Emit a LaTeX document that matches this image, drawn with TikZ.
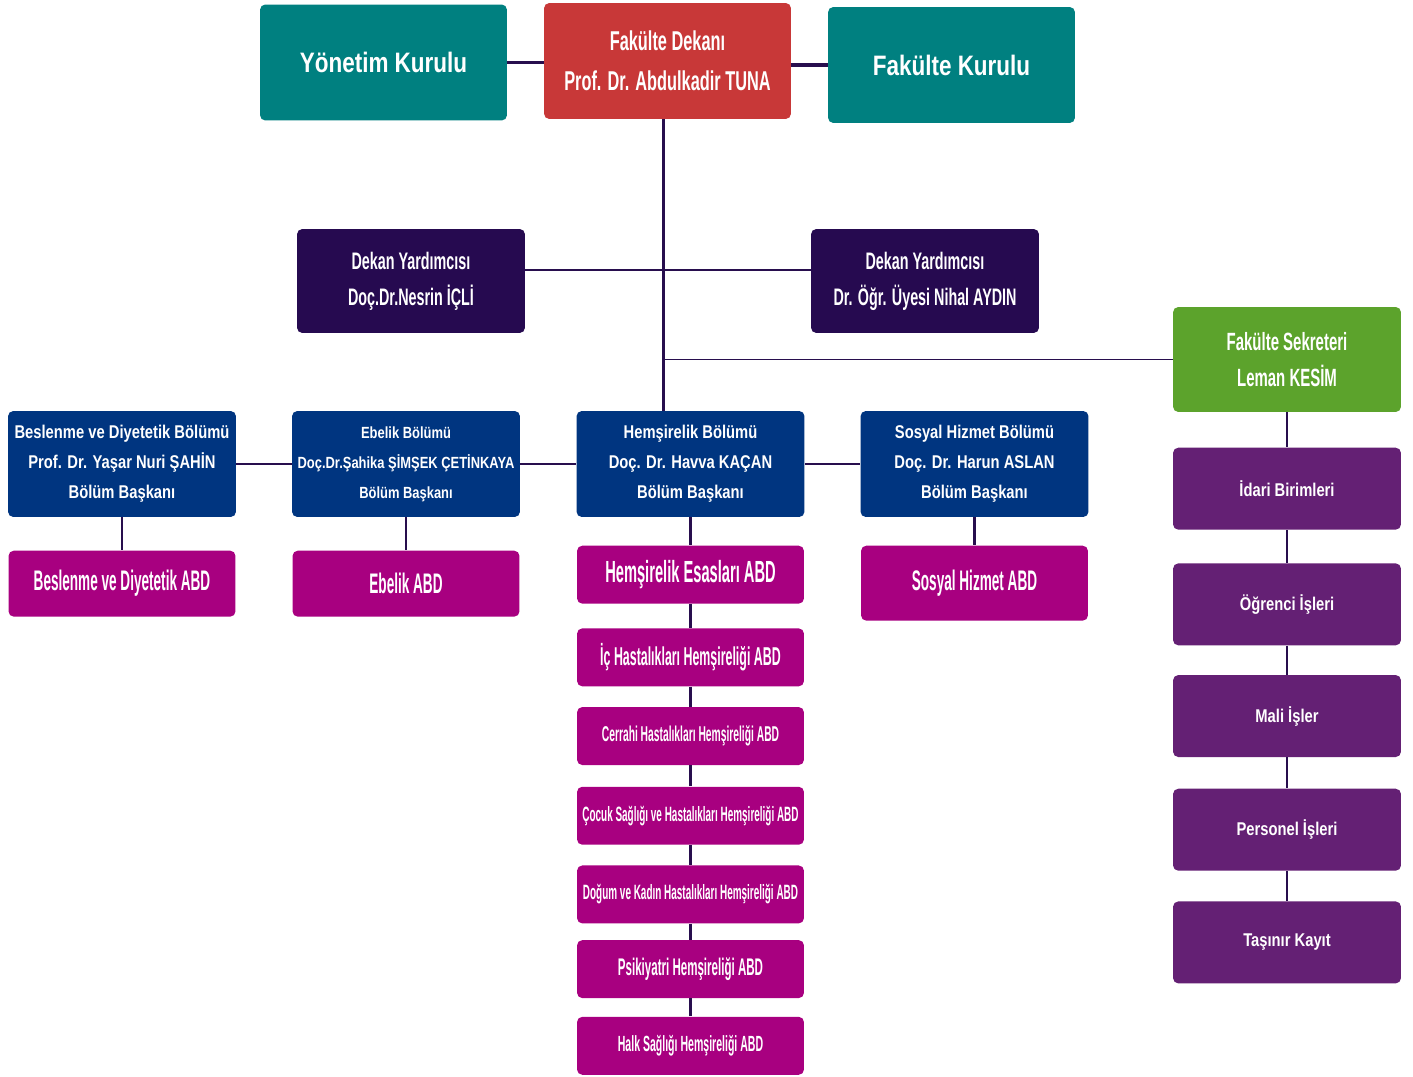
\documentclass[tikz,border=0pt]{standalone}
\usepackage{fontspec}
\setmainfont{Liberation Sans}
\newfontfamily\fwide[FakeStretch=0.8]{Liberation Sans}
\newfontfamily\fmid[FakeStretch=0.6]{Liberation Sans}
\newfontfamily\fnarrow[FakeStretch=0.48]{Liberation Sans}
\usetikzlibrary{positioning}
\definecolor{kurulteal}{RGB}{0,128,128}
\definecolor{dekanred}{RGB}{200,56,56}
\definecolor{yardpurple}{RGB}{38,10,80}
\definecolor{sekgreen}{RGB}{92,163,44}
\definecolor{bolumblue}{RGB}{0,53,128}
\definecolor{abdmagenta}{RGB}{168,0,128}
\definecolor{idaripurple}{RGB}{100,32,116}
\definecolor{linkpurple}{RGB}{40,14,78}

\begin{document}
\begin{tikzpicture}
            [x=0.02cm, y=-0.02cm,
            every node/.style={rounded corners=3pt, inner sep=0pt,
            align=center, text=white},
            kurul/.style={fill=kurulteal, minimum width=4.94cm, minimum height=2.32cm,
            font=\fwide\bfseries\fontsize{16}{20}\selectfont},
            dekan/.style={kurul, fill=dekanred,
            font=\fmid\bfseries\fontsize{15.5}{22.5}\selectfont},
            yard/.style={fill=yardpurple, minimum width=4.56cm, minimum height=2.08cm,
            font=\fmid\bfseries\fontsize{13.6}{20.4}\selectfont},
            sekreter/.style={yard, fill=sekgreen, minimum height=2.1cm,
            font=\fmid\bfseries\fontsize{14.2}{20.4}\selectfont},
            idari/.style={fill=idaripurple, minimum width=4.56cm, minimum height=1.64cm,
            font=\fwide\bfseries\fontsize{10.5}{17}\selectfont},
            bolum/.style={fill=bolumblue, minimum width=4.56cm, minimum height=2.12cm,
            font=\fwide\bfseries\fontsize{10.5}{17}\selectfont},
            abd/.style={fill=abdmagenta, minimum width=4.54cm, minimum height=1.16cm,
            font=\fnarrow\bfseries\fontsize{16.1}{18}\selectfont},
            link/.style={draw=linkpurple, line width=1.3pt}]
            \path[fill=white, use as bounding box] (0,0) rectangle (1413,1077);
            \node[kurul] (yonetim) at (383.5,62.5) {Yönetim Kurulu};
            \node[dekan] (dekan) at (667.5,61) {Fakülte Dekanı\\Prof. Dr. Abdulkadir TUNA};
            \node[kurul] (fkurul) at (951.5,65) {Fakülte Kurulu};
            \node[yard] (yard1) at (411,281) {Dekan Yardımcısı\\Doç.Dr.Nesrin İÇLİ};
            \node[yard] (yard2) at (925,281) {Dekan Yardımcısı\\Dr. Öğr. Üyesi Nihal AYDIN};
            \node[sekreter] (sekreter) at (1287,359.5) {Fakülte Sekreteri\\Leman KESİM};
            \node[idari, below=0.7cm of sekreter] (idari) {İdari Birimleri};
            \node[idari, below=0.66cm of idari] (ogrenci) {Öğrenci İşleri};
            \node[idari, below=0.58cm of ogrenci] (mali) {Mali İşler};
            \node[idari, below=0.62cm of mali] (personel) {Personel İşleri};
            \node[idari, below=0.6cm of personel] (tasinir) {Taşınır Kayıt};
            \node[bolum] (beslenme) at (122,464) {Beslenme ve Diyetetik Bölümü\\Prof. Dr. Yaşar Nuri ŞAHİN\\Bölüm Başkanı};
            \node[bolum, font=\fwide\bfseries\fontsize{9.2}{17}\selectfont] (ebelik) at (406,464) {Ebelik Bölümü\\Doç.Dr.Şahika ŞİMŞEK ÇETİNKAYA\\Bölüm Başkanı};
            \node[bolum] (hemsire) at (690.5,464) {Hemşirelik Bölümü\\Doç. Dr. Havva KAÇAN\\Bölüm Başkanı};
            \node[bolum] (sosyal) at (974.5,464) {Sosyal Hizmet Bölümü\\Doç. Dr. Harun ASLAN\\Bölüm Başkanı};
            \node[abd, minimum height=1.32cm, below=0.66cm of beslenme] (beslenmeabd) {Beslenme ve Diyetetik ABD};
            \node[abd, minimum height=1.32cm, below=0.66cm of ebelik] (ebelikabd) {Ebelik ABD};
            \node[abd, minimum height=1.5cm, below=0.56cm of sosyal] (sosyalabd) {Sosyal Hizmet ABD};
            \node[abd, font=\fnarrow\bfseries\fontsize{17.4}{18}\selectfont, below=0.56cm of hemsire] (esas) {Hemşirelik Esasları ABD};
            \node[abd, font=\fnarrow\bfseries\fontsize{14.7}{16}\selectfont, below=0.48cm of esas] (ic) {İç Hastalıkları Hemşireliği ABD};
            \node[abd, font=\fnarrow\bfseries\fontsize{12.2}{14}\selectfont, below=0.4cm of ic] (cerrahi) {Cerrahi Hastalıkları Hemşireliği ABD};
            \node[abd, font=\fnarrow\bfseries\fontsize{11.8}{14}\selectfont, below=0.42cm of cerrahi] (cocuk) {Çocuk Sağlığı ve Hastalıkları Hemşireliği ABD};
            \node[abd, font=\fnarrow\bfseries\fontsize{11.8}{14}\selectfont, below=0.4cm of cocuk] (dogum) {Doğum ve Kadın Hastalıkları Hemşireliği ABD};
            \node[abd, font=\fnarrow\bfseries\fontsize{13.7}{16}\selectfont, below=0.32cm of dogum] (psik) {Psikiyatri Hemşireliği ABD};
            \node[abd, font=\fnarrow\bfseries\fontsize{12.5}{14}\selectfont, below=0.36cm of psik] (halk) {Halk Sağlığı Hemşireliği ABD};
            \coordinate (spine) at (663,0);
            \draw[link, line width=2.2pt] (yonetim.east) -- (yonetim.east -| dekan.west);
            \draw[link, line width=2.2pt] (fkurul.west -| dekan.east) -- (fkurul.west);
            \draw[link, line width=1.7pt] (dekan.south -| spine) -- (hemsire.north -| spine);
            \draw[link] ([yshift=0.22cm]yard1.east) -- ([yshift=0.22cm]yard2.west);
            \draw[link, line width=1pt] (spine |- sekreter.west) -- (sekreter.west);
            \foreach \a/\b in {sekreter/idari, idari/ogrenci, ogrenci/mali, mali/personel,
              personel/tasinir, beslenme/ebelik, ebelik/hemsire, hemsire/sosyal,
              beslenme/beslenmeabd, ebelik/ebelikabd, sosyal/sosyalabd, hemsire/esas,
              esas/ic, ic/cerrahi, cerrahi/cocuk, cocuk/dogum, dogum/psik, psik/halk}
              \draw[link] (\a) -- (\b);
            \end{tikzpicture}
\end{document}
